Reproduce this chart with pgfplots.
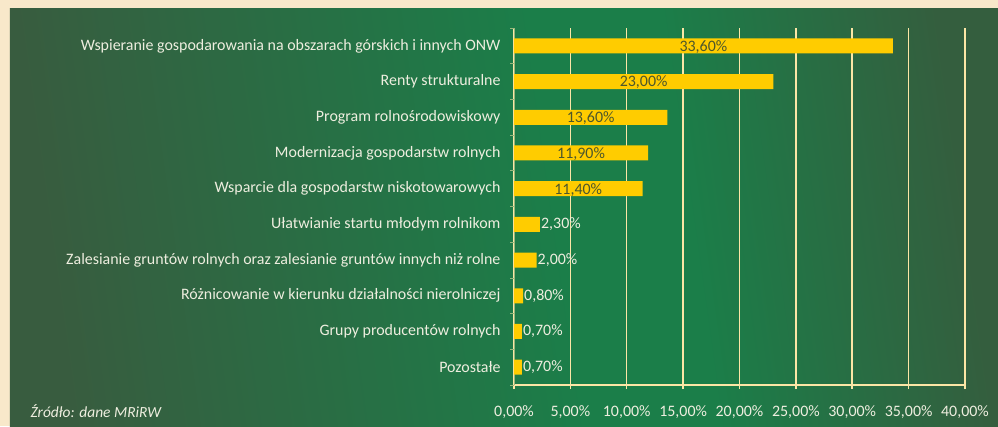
\documentclass[border=0pt]{standalone}
\usepackage{fontspec}
\setmainfont{Carlito}
\usepackage{pgfplots}
\usepackage{pgfplotstable}
\pgfplotsset{compat=1.18}

\definecolor{bargold}{HTML}{FFCC00}
\definecolor{gridcream}{HTML}{FCE6A6}
\definecolor{txtlight}{HTML}{EEEEDF}
\definecolor{txtdark}{HTML}{4C572C}
\definecolor{bgcream}{HTML}{F8E8CA}
\definecolor{gdark}{HTML}{385C3F}
\definecolor{gmid}{HTML}{1B7E49}
\definecolor{gright}{HTML}{345E3E}

\pgfdeclarehorizontalshading{bgshade}{100bp}{color(0bp)=(gdark); color(25bp)=(gdark);
  color(53bp)=(gmid); color(60bp)=(gmid); color(75bp)=(gright); color(100bp)=(gright)}

\pgfplotstableread{
idx v
0 33.6
1 23.0
2 13.6
3 11.9
4 11.4
5 2.3
6 2.0
7 0.8
8 0.7
9 0.7
}\shares

\newcommand\lbl{\fontsize{16}{18}\selectfont}

\begin{document}
\begin{tikzpicture}[x=1bp,y=1bp]
\useasboundingbox (-514,-41) rectangle (484,385);
\fill[bgcream] (-514,-41) rectangle (484,385);
\shade[shading=bgshade, shading angle=8] (-504,-41) rectangle (484,377);
\node[anchor=west, txtlight, font=\fontsize{15.5}{17}\selectfont\itshape] at (-487,-26) {Źródło: dane MRiRW};
\begin{axis}[
  at={(0,0)}, anchor=south west,
  scale only axis, width=451bp, height=357bp,
  xmin=0, xmax=40,
  ymin=-0.5, ymax=9.5, y dir=reverse,
  xtick={0,5,...,40},
  ytick={0,...,9},
  minor ytick={-0.5,0.5,...,9.5},
  yticklabels={
    Wspieranie gospodarowania na obszarach górskich i innych ONW,
    Renty strukturalne,
    Program rolnośrodowiskowy,
    Modernizacja gospodarstw rolnych,
    Wsparcie dla gospodarstw niskotowarowych,
    Ułatwianie startu młodym rolnikom,
    Zalesianie gruntów rolnych oraz zalesianie gruntów innych niż rolne,
    Różnicowanie w kierunku działalności nierolniczej,
    Grupy producentów rolnych,
    Pozostałe},
  axis x line*=bottom, axis y line*=left,
  x axis line style={gridcream, line width=1.5bp},
  y axis line style={gridcream!55!gmid, line width=0.8bp},
  tick align=outside,
  major tick length=4bp, minor tick length=4bp,
  every major y tick/.style={draw=none},
  every minor y tick/.style={gridcream!55!gmid, line width=0.8bp},
  every major x tick/.style={gridcream, line width=1.5bp},
  xmajorgrids, grid style={gridcream, line width=1.5bp},
  xticklabel={\pgfmathprintnumber{\tick}\%},
  xticklabel style={txtlight, font=\lbl, yshift=-13bp},
  yticklabel style={txtlight, font=\lbl, xshift=-6bp},
  /pgf/number format/use comma,
  /pgf/number format/fixed,
  /pgf/number format/fixed zerofill,
  /pgf/number format/precision=2,
  /pgf/number format/assume math mode=true,
]
\addplot[xbar, bar width=15bp, fill=bargold, draw=none] table[x=v, y=idx] {\shares};
% labels inside the long bars
\addplot[draw=none, mark=none, skip coords between index={5}{10},
  point meta=\thisrow{v},
  nodes near coords={\pgfmathprintnumber{\pgfplotspointmeta}\%},
  every node near coord/.style={txtdark, font=\lbl, anchor=center, inner sep=0pt, yshift=-1bp}]
  table[x expr=\thisrow{v}/2, y=idx] {\shares};
% labels after the short bars
\addplot[draw=none, mark=none, skip coords between index={0}{5},
  point meta=\thisrow{v},
  nodes near coords={\pgfmathprintnumber{\pgfplotspointmeta}\%},
  every node near coord/.style={txtlight, font=\lbl, anchor=west, inner sep=1bp}]
  table[x=v, y=idx] {\shares};
\end{axis}
\end{tikzpicture}
\end{document}
